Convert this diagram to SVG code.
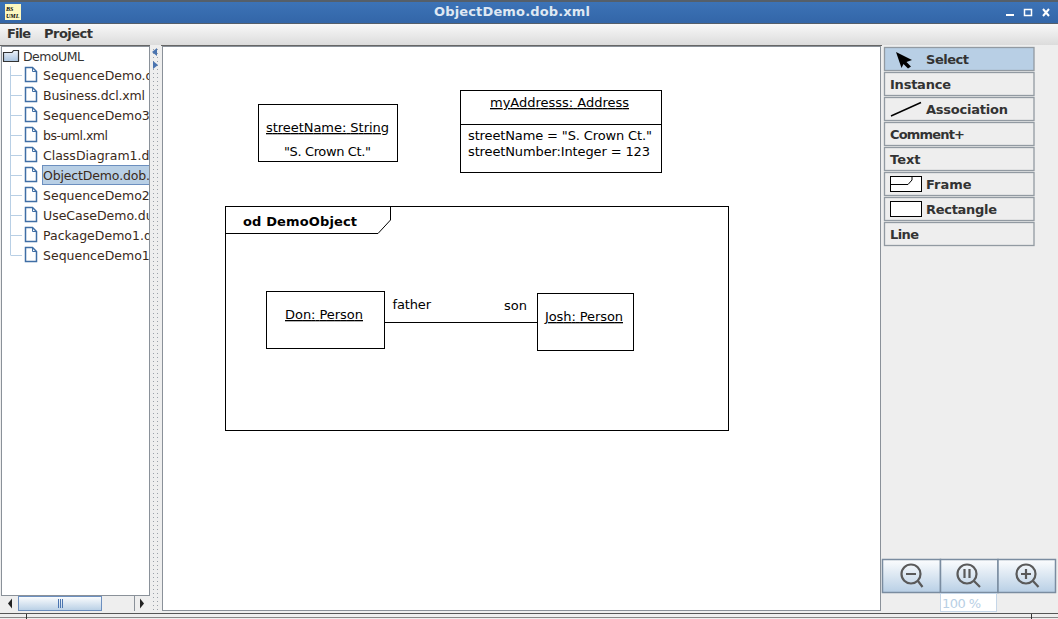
<svg xmlns="http://www.w3.org/2000/svg" width="1058" height="619" viewBox="0 0 1058 619">
<style>
text{font-family:"DejaVu Sans",sans-serif;font-size:13px;fill:#000}
.tree{fill:#3a2a1a;font-size:12.5px}
.bold{font-weight:bold;fill:#333}
.box{fill:#fff;stroke:#000;stroke-width:1}
.btn{fill:#eeeeee;stroke:#929aa2;stroke-width:1.3}
.zoom{fill:url(#zg);stroke:#7a8ca0;stroke-width:1.5}
.ico{fill:none;stroke:#5a5a5a;stroke-width:2.2}
.tl{stroke:#b8cfe5;stroke-width:1;fill:none}
.doc{fill:#fff;stroke:#3f6ea5;stroke-width:1.5}
</style>
<defs>
<linearGradient id="tb" x1="0" y1="0" x2="0" y2="1"><stop offset="0" stop-color="#3d74b8"/><stop offset="1" stop-color="#3366a8"/></linearGradient>
<linearGradient id="mb" x1="0" y1="0" x2="0" y2="1"><stop offset="0" stop-color="#f8f8f8"/><stop offset="1" stop-color="#dcdcdc"/></linearGradient>
<linearGradient id="zg" x1="0" y1="0" x2="0" y2="1"><stop offset="0" stop-color="#fcfdfe"/><stop offset="1" stop-color="#b8cfe5"/></linearGradient>
<linearGradient id="fg" x1="0" y1="0" x2="0" y2="1"><stop offset="0" stop-color="#eef3f9"/><stop offset="1" stop-color="#a9c3df"/></linearGradient>
<clipPath id="treeclip"><rect x="0" y="46" width="149" height="550"/></clipPath>
<pattern id="dots" width="4" height="4" patternUnits="userSpaceOnUse"><rect width="4" height="4" fill="#eeeeee"/><rect x="1" y="1" width="1" height="1" fill="#99a0a8"/></pattern>
<symbol id="docic" overflow="visible"><path class="doc" d="M0.5 0.500H7.500L11.500 4.500V14.500H0.500Z"/><path d="M7.500 0.500V4.500H11.500" fill="none" stroke="#3f6ea5"/></symbol>
</defs>
<rect width="1058" height="619" fill="#eeeeee"/>

<g id="window-chrome">
<rect x="0" y="0" width="1058" height="23" fill="url(#tb)"/>
<rect x="0" y="0" width="1058" height="2" fill="#555f6a"/>
<rect x="0" y="23" width="1058" height="1" fill="#555f6a"/>
<rect x="5" y="4" width="16" height="16" fill="#fdf8c0"/>
<text x="6" y="11" style="font-family:'Liberation Serif',serif;font-size:6px;font-weight:bold;font-style:italic">BS</text>
<text x="6" y="18" style="font-family:'Liberation Serif',serif;font-size:6px;font-weight:bold;font-style:italic">UML</text>
<text x="434" y="16" textLength="156" style="font-weight:bold;fill:#dfe8f3;font-size:13px">ObjectDemo.dob.xml</text>
<rect x="1006" y="14" width="8" height="2" fill="#fff"/>
<rect x="1024.500" y="9.500" width="7" height="6" fill="none" stroke="#fff" stroke-width="1.5"/>
<path d="M1043 9L1049 16M1049 9L1043 16" stroke="#fff" stroke-width="2"/>
</g>

<g id="menubar">
<rect x="0" y="24" width="1058" height="21" fill="url(#mb)"/>
<text x="7" y="38" class="bold" textLength="24">File</text>
<text x="44" y="38" class="bold" textLength="49">Project</text>
</g>

<g id="tree-panel">
<rect x="1.500" y="46.500" width="148" height="549" fill="#fff" stroke="#8a9199"/>
<path d="M0 45.500H150" stroke="#666"/>
<g clip-path="url(#treeclip)">
<path class="tl" d="M10.500 66V255.500M11 75.500H22M11 95.500H22M11 115.500H22M11 135.500H22M11 155.500H22M11 175.500H22M11 195.500H22M11 215.500H22M11 235.500H22M11 255.500H22"/>
<path d="M3.500 61.500V52.500H12L13.500 50.500H18.500V61.500Z" fill="url(#fg)" stroke="#333" stroke-width="1.200"/>
<text x="23" y="61" class="tree" style="fill:#333" textLength="61">DemoUML</text>
<rect x="42.500" y="165.500" width="110" height="19" fill="#b8cfe5" stroke="#6c8fbf"/>
<use href="#docic" x="25" y="67"/><use href="#docic" x="25" y="87"/><use href="#docic" x="25" y="107"/><use href="#docic" x="25" y="127"/><use href="#docic" x="25" y="147"/><use href="#docic" x="25" y="167"/><use href="#docic" x="25" y="187"/><use href="#docic" x="25" y="207"/><use href="#docic" x="25" y="227"/><use href="#docic" x="25" y="247"/>
<text x="43" y="80" class="tree">SequenceDemo.d</text>
<text x="43" y="100" class="tree" textLength="102">Business.dcl.xml</text>
<text x="43" y="120" class="tree">SequenceDemo3</text>
<text x="43" y="140" class="tree" textLength="65">bs-uml.xml</text>
<text x="43" y="160" class="tree">ClassDiagram1.d</text>
<text x="43" y="180" class="tree" textLength="107">ObjectDemo.dob.</text>
<text x="43" y="200" class="tree">SequenceDemo2</text>
<text x="43" y="220" class="tree">UseCaseDemo.du</text>
<text x="43" y="240" class="tree">PackageDemo1.d</text>
<text x="43" y="260" class="tree">SequenceDemo1</text>
</g>
<g id="hscroll">
<rect x="2" y="596" width="147" height="15" fill="#eeeeee"/>
<rect x="18.500" y="596.500" width="83" height="14" fill="url(#zg)" stroke="#6c8fbf"/>
<path d="M58.500 599V608M60.500 599V608M62.500 599V608" stroke="#4a74b0"/>
<path d="M12 598.500V608.500L8 603.500Z" fill="#222"/>
<path d="M140 598.500V608.500L144 603.500Z" fill="#222"/>
<path d="M2 595.500H149M134.500 596V611" stroke="#8a9199"/>
</g>
</g>

<g id="splitter">
<rect x="150" y="46" width="11" height="565" fill="url(#dots)"/>
<path d="M157 48V56L152 52Z" fill="#4a74b0"/>
<path d="M153 61V69L158 65Z" fill="#4a74b0"/>
</g>

<g id="canvas">
<path d="M161 45.500H882" stroke="#666"/>
<rect x="162.500" y="46.500" width="718" height="564" fill="#fff" stroke="#8a9199"/>
</g>

<g id="streetName">
<rect class="box" x="258.500" y="104.500" width="139" height="57"/>
<text x="266" y="132" text-decoration="underline" textLength="123">streetName: String</text>
<text x="284" y="156" textLength="87">"S. Crown Ct."</text>
</g>

<g id="myAddress">
<rect class="box" x="460.500" y="90.500" width="201" height="82"/>
<path d="M460.500 124.500H661.500" stroke="#000" fill="none"/>
<text x="490" y="107" text-decoration="underline" textLength="139">myAddresss: Address</text>
<text x="468" y="140" textLength="184">streetName = "S. Crown Ct."</text>
<text x="468" y="156" textLength="182">streetNumber:Integer = 123</text>
</g>

<g id="frame">
<rect class="box" x="225.500" y="206.500" width="503" height="224"/>
<path d="M225.500 233.500H378L390.500 220V206.500" fill="none" stroke="#000"/>
<text x="243" y="226" style="font-weight:bold" textLength="114">od DemoObject</text>
</g>

<g id="connectors">
<path d="M384.500 322.500H537.500" stroke="#000" fill="none"/>
<text x="392.500" y="309" textLength="38.500">father</text>
<text x="504" y="310">son</text>
</g>

<g id="don">
<rect class="box" x="266.500" y="291.500" width="118" height="57"/>
<text x="285" y="319" text-decoration="underline" textLength="78">Don: Person</text>
</g>

<g id="josh">
<rect class="box" x="537.500" y="293.500" width="96" height="57"/>
<text x="545" y="321" text-decoration="underline" textLength="78">Josh: Person</text>
</g>

<g id="palette">
<rect class="btn" x="884.500" y="47.500" width="149.500" height="23" style="fill:#b8cfe5"/>
<path d="M896 52L912 60L906.500 62L911 66.500L908 68.500L903.500 64L901.500 68Z" fill="#000"/>
<text x="926" y="64" class="bold" textLength="43">Select</text>
<rect class="btn" x="884.500" y="72.500" width="149.500" height="23"/>
<text x="890" y="89" class="bold" textLength="61">Instance</text>
<rect class="btn" x="884.500" y="97.500" width="149.500" height="23"/>
<path d="M891 116L921 102.500" stroke="#000" stroke-width="1.400" fill="none"/>
<text x="926" y="114" class="bold" textLength="82">Association</text>
<rect class="btn" x="884.500" y="122.500" width="149.500" height="23"/>
<text x="890" y="139" class="bold" textLength="75">Comment+</text>
<rect class="btn" x="884.500" y="147.500" width="149.500" height="23"/>
<text x="890" y="164" class="bold">Text</text>
<rect class="btn" x="884.500" y="172.500" width="149.500" height="23"/>
<rect x="890.500" y="176.500" width="31" height="15" fill="#fff" stroke="#000"/>
<path d="M890.500 184.500H908L912 180V176.500" fill="none" stroke="#000"/>
<text x="926" y="189" class="bold">Frame</text>
<rect class="btn" x="884.500" y="197.500" width="149.500" height="23"/>
<rect x="890.500" y="201.500" width="31" height="15" fill="#fff" stroke="#000"/>
<text x="926" y="214" class="bold" textLength="71">Rectangle</text>
<rect class="btn" x="884.500" y="222.500" width="149.500" height="23"/>
<text x="890" y="239" class="bold" textLength="29">Line</text>
</g>

<g id="zoom-controls">
<rect class="zoom" x="882.500" y="559.500" width="58" height="33"/>
<rect class="zoom" x="940.500" y="559.500" width="57.500" height="33"/>
<rect class="zoom" x="998" y="559.500" width="57.500" height="33"/>
<circle class="ico" cx="911" cy="574" r="9.500"/><path class="ico" d="M918 581L922.500 587M906 574H916"/>
<circle class="ico" cx="967" cy="574" r="9.500"/><path class="ico" d="M974 581L980 587M964.500 569V578M969.500 569V578"/>
<circle class="ico" cx="1026" cy="574" r="9.500"/><path class="ico" d="M1033 581L1038.500 587M1021 574H1031M1026 569V579"/>
<rect x="940.500" y="593.500" width="56" height="18" fill="#fff" stroke="#c5d6e8"/>
<text x="942" y="608" style="fill:#b8cfe5" textLength="39">100 %</text>
</g>

<g id="statusbar">
<rect x="0" y="612" width="1058" height="7" fill="#eeeeee"/>
<path d="M0 613.500H1058" stroke="#555" fill="none"/>
<path d="M0 617.500H1058" stroke="#888" fill="none"/>
<path d="M26.500 614V619M1031.500 614V619" stroke="#333" fill="none"/>
</g>
</svg>
